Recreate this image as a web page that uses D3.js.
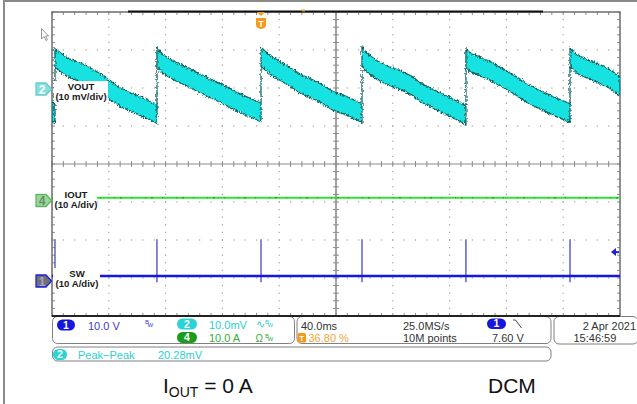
<!DOCTYPE html>
<html><head><meta charset="utf-8">
<script src="https://cdn.jsdelivr.net/npm/d3@7"></script>
<style>html,body{margin:0;padding:0;background:#fff;}svg{display:block;font-family:"Liberation Sans",Arial,sans-serif;}</style>
</head><body>
<svg id="c" width="637" height="404"></svg>
<script>
// ---------------- DATA ----------------
// time axis: 40 ms/div, 10 divisions
const timeDivs = [0, 40, 80, 120, 160, 200, 240, 280, 320, 360, 400];
// VOUT (ch2, mV, AC): centre of the noisy band
const voutT = [0, 2.1, 2.1, 10.6, 24.6, 33.8, 47.9, 57.0, 73.9,
  73.9, 78.2, 85.2, 95.1, 104.2, 118.3, 132.4, 147.2,
  147.2, 153.5, 160.6, 167.6, 174.6, 181.7, 188.7, 197.9, 207.7, 218.3,
  218.3, 221.8, 228.9, 235.9, 245.1, 254.2, 259.2, 273.2, 291.5,
  291.5, 294.4, 308.5, 322.5, 336.6, 352.8, 364.8,
  364.8, 369.7, 378.9, 385.9, 392.9, 400];
const voutV = [-6.2, -6.6, 7.9, 5.5, 3.4, 1.3, -2.4, -3.9, -6.8,
  8.2, 6.3, 4.7, 2.9, 1.2, -1.3, -4.0, -6.4,
  8.2, 6.1, 4.5, 2.9, 1.2, 0.0, -1.2, -3.4, -4.7, -6.6,
  8.4, 6.6, 4.7, 3.4, 2.1, 0.5, -1.1, -3.7, -7.1,
  7.9, 6.8, 4.5, 1.6, -1.8, -4.7, -6.6,
  8.2, 6.3, 4.7, 3.7, 2.4, 0.5];
const voutNoise = 2.45; // half band width, mV
// IOUT (ch4, A)
const ioutT = [0, 400];
const ioutA = [0.7, 0.7];
// SW (ch1, V)
const swT = [0, 400];
const swV = [1.3, 1.3];
const swSpikeT = [2.1, 73.9, 147.2, 218.3, 291.5, 364.8];
const swSpikeHigh = [11.0, 11.0, 11.0, 11.0, 11.0, 11.0];
const swSpikeLow = [-0.3, -0.3, -0.3, -0.3, -0.3, -0.3];
// trigger
const triggerPct = 36.80;
const triggerLevelV = 7.60;
// labels
const chanNames = ["VOUT", "IOUT", "SW"];
const chanScales = ["(10 mV/div)", "(10 A/div)", "(10 A/div)"];
const chanNums = ["2", "4", "1"];
const info = {
  ch1: "10.0 V", ch2: "10.0mV", ch4: "10.0 A",
  timebase: "40.0ms", trigPos: "36.80 %", rate: "25.0MS/s", points: "10M points",
  trigLevel: "7.60 V", date: "2 Apr  2021", time: "15:46:59",
  measName: "Peak\u2212Peak", measVal: "20.28mV"
};

// ---------------- SCALES ----------------
const svg = d3.select("#c");
const L = 52, R = 620, T = 12, B = 316;
const x = d3.scaleLinear().domain([0, 400]).range([L, R]);
const gy = d3.scaleLinear().domain([-4, 4]).range([B, T]);
const yV = d3.scaleLinear().domain([0, 10]).range([88, 50]);
const yI = d3.scaleLinear().domain([0, 10]).range([200.5, 162.5]);
const yS = d3.scaleLinear().domain([0, 10]).range([281, 243]);

const defs = svg.append("defs");
defs.append("clipPath").attr("id", "plot").append("rect")
  .attr("x", L).attr("y", T).attr("width", R - L).attr("height", B - T);
const f = defs.append("filter").attr("id", "rough").attr("filterUnits", "userSpaceOnUse")
  .attr("x", 40).attr("y", 0).attr("width", 600).attr("height", 180);
f.append("feTurbulence").attr("type", "fractalNoise").attr("baseFrequency", "0.7 0.45")
  .attr("numOctaves", 2).attr("seed", 4).attr("result", "n");
f.append("feDisplacementMap").attr("in", "SourceGraphic").attr("in2", "n")
  .attr("scale", 4.5).attr("xChannelSelector", "R").attr("yChannelSelector", "G");

// outer frame
svg.append("line").attr("x1", 4).attr("x2", 637).attr("y1", 1).attr("y2", 1).attr("stroke", "#8a8a8a").attr("stroke-width", 2);
svg.append("line").attr("x1", 4).attr("x2", 4).attr("y1", 0).attr("y2", 404).attr("stroke", "#8a8a8a").attr("stroke-width", 2);

// ---------------- GRID ----------------
const grid = svg.append("g");
const minorT = d3.range(0, 400.01, 8);
const minorD = d3.range(0, 41).map(i => -4 + i * 0.2);
const dots = [];
timeDivs.filter(t => t > 0 && t < 400 && t !== 200).forEach(t => minorD.forEach(d => dots.push([x(t), gy(d)])));
d3.range(-3, 4).filter(d => d !== 0).forEach(d => minorT.forEach(t => dots.push([x(t), gy(d)])));
grid.selectAll("rect.dot").data(dots).join("rect").attr("class", "dot")
  .attr("x", d => d[0] - 0.6).attr("y", d => d[1] - 0.6).attr("width", 1.2).attr("height", 1.2).attr("fill", "#a0a0a0");
// centre lines with ticks
grid.append("line").attr("x1", L).attr("x2", R).attr("y1", gy(0)).attr("y2", gy(0)).attr("stroke", "#8c8c8c").attr("stroke-width", 1.2);
grid.append("line").attr("x1", x(200)).attr("x2", x(200)).attr("y1", T).attr("y2", B).attr("stroke", "#8c8c8c").attr("stroke-width", 1.6);
grid.selectAll("line.ht").data(minorT).join("line").attr("class", "ht")
  .attr("x1", d => x(d)).attr("x2", d => x(d)).attr("y1", gy(0) - 3).attr("y2", gy(0) + 3).attr("stroke", "#8c8c8c");
grid.selectAll("line.vt").data(minorD).join("line").attr("class", "vt")
  .attr("x1", x(200) - 3).attr("x2", x(200) + 3).attr("y1", d => gy(d)).attr("y2", d => gy(d)).attr("stroke", "#8c8c8c");
// border ticks
grid.selectAll("line.bt").data(minorT).join("line").attr("class", "bt")
  .attr("x1", d => x(d)).attr("x2", d => x(d)).attr("y1", T).attr("y2", T + 3).attr("stroke", "#8c8c8c");
grid.selectAll("line.bb").data(minorT).join("line").attr("class", "bb")
  .attr("x1", d => x(d)).attr("x2", d => x(d)).attr("y1", B - 3).attr("y2", B).attr("stroke", "#8c8c8c");
grid.selectAll("line.bl").data(minorD).join("line").attr("class", "bl")
  .attr("x1", L).attr("x2", L + 3).attr("y1", d => gy(d)).attr("y2", d => gy(d)).attr("stroke", "#8c8c8c");
grid.selectAll("line.br").data(minorD).join("line").attr("class", "br")
  .attr("x1", R - 3).attr("x2", R).attr("y1", d => gy(d)).attr("y2", d => gy(d)).attr("stroke", "#8c8c8c");
grid.append("rect").attr("x", L).attr("y", T).attr("width", R - L).attr("height", B - T)
  .attr("fill", "none").attr("stroke", "#6e6e6e").attr("stroke-width", 1.5);
// record bar / bottom edge
grid.append("line").attr("x1", 128).attr("x2", 543).attr("y1", 11.5).attr("y2", 11.5).attr("stroke", "#111").attr("stroke-width", 2);
grid.append("line").attr("x1", L).attr("x2", R).attr("y1", B).attr("y2", B).attr("stroke", "#222").attr("stroke-width", 2);

// ---------------- TRACES ----------------
const tr = svg.append("g").attr("clip-path", "url(#plot)");
const vData = voutT.map((t, i) => ({ t, v: voutV[i] }));
const area = d3.area().x(d => x(d.t)).y0(d => yV(d.v - voutNoise)).y1(d => yV(d.v + voutNoise));
tr.append("path").datum(vData).attr("d", area)
  .attr("fill", "#18e2e2").attr("stroke", "#0e6262").attr("stroke-width", 1.3)
  .attr("stroke-linejoin", "round").attr("filter", "url(#rough)");

const line = (sx, sy) => d3.line().x(d => sx(d[0])).y(d => sy(d[1]));
tr.append("path").datum(ioutT.map((t, i) => [t, ioutA[i]])).attr("d", line(x, yI))
  .attr("fill", "none").attr("stroke", "#2fe22f").attr("stroke-width", 2);
tr.append("path").datum(ioutT.map((t, i) => [t, ioutA[i]])).attr("d", line(x, yI))
  .attr("fill", "none").attr("stroke", "#1d8f1d").attr("stroke-width", 1).attr("stroke-dasharray", "1 5 2 9 1 13");

tr.selectAll("line.sp").data(swSpikeT).join("line").attr("class", "sp")
  .attr("x1", d => x(d)).attr("x2", d => x(d))
  .attr("y1", (d, i) => yS(swSpikeHigh[i])).attr("y2", (d, i) => yS(swSpikeLow[i]))
  .attr("stroke", "#4646c4").attr("stroke-width", 1.3);
tr.append("path").datum(swT.map((t, i) => [t, swV[i]])).attr("d", line(x, yS))
  .attr("fill", "none").attr("stroke", "#1515e4").attr("stroke-width", 2.6);

// ---------------- CHANNEL LABELS ----------------
const lab = svg.append("g").attr("font-size", 9.6).attr("font-weight", "bold").attr("fill", "#1a1a1a").attr("text-anchor", "middle");
const boxes = [[54, 81, 54, 22, 81, 90, 99.5], [53, 188, 44, 22, 76, 198, 207.5], [53, 268, 47, 23, 77, 277, 286.5]];
boxes.forEach((b, i) => {
  lab.append("rect").attr("x", b[0]).attr("y", b[1]).attr("width", b[2]).attr("height", b[3]).attr("fill", "#fff");
  lab.append("text").attr("x", b[4]).attr("y", b[5]).text(chanNames[i]);
  lab.append("text").attr("x", b[4]).attr("y", b[6]).text(chanScales[i]);
});

// channel offset markers
function marker(yc, fill, stroke, txtFill, num) {
  const g = svg.append("g");
  g.append("path").attr("d", `M36,${yc - 6} H46 L51.5,${yc} L46,${yc + 6} H36 Z`)
    .attr("fill", fill).attr("stroke", stroke).attr("stroke-width", 1.3).attr("stroke-linejoin", "round");
  g.append("text").attr("x", 42).attr("y", yc + 4.5).attr("text-anchor", "middle")
    .attr("font-size", 12).attr("font-weight", "bold").attr("fill", txtFill).text(num);
}
marker(yV(0) + 1, "#86dede", "#66cccc", "#f4ffff", chanNums[0]);
marker(yI(0), "#98d898", "#5fb85f", "#6a8a6a", chanNums[1]);
marker(yS(0), "#707078", "#1e1ee6", "#a8a8b8", chanNums[2]);

// trigger position marker
const tx = x(triggerPct / 100 * 400);
svg.append("path").attr("d", `M${tx - 4},12 H${tx + 4} L${tx},16 Z`).attr("fill", "#f59a1c");
svg.append("path").attr("d", `M${tx - 5},18 H${tx + 5} V25 Q${tx + 5},28 ${tx},29 Q${tx - 5},28 ${tx - 5},25 Z`).attr("fill", "#f59a1c");
svg.append("text").attr("x", tx).attr("y", 26.5).attr("text-anchor", "middle").attr("font-size", 9)
  .attr("font-weight", "bold").attr("fill", "#fff").text("T");
svg.append("rect").attr("x", 302).attr("y", 9.5).attr("width", 3).attr("height", 2).attr("fill", "#f59a1c");
// trigger level arrow
const ty = yS(triggerLevelV);
svg.append("path").attr("d", `M611,${ty} L616,${ty - 4} L616,${ty + 4} Z`).attr("fill", "#1e1ee6");
svg.append("line").attr("x1", 615).attr("x2", 619).attr("y1", ty).attr("y2", ty).attr("stroke", "#1e1ee6").attr("stroke-width", 2);

// mouse cursor icon
svg.append("path").attr("d", "M41.5,28.5 L41.5,39 L44,36.5 L46,40.5 L47.5,39.8 L45.5,36 L48.5,36 Z")
  .attr("fill", "#fff").attr("stroke", "#8a8a8a").attr("stroke-width", 0.9);

// ---------------- INFO PANEL ----------------
const p = svg.append("g").attr("font-size", 11);
const rbox = (x0, y0, w, h) => p.append("rect").attr("x", x0).attr("y", y0).attr("width", w).attr("height", h)
  .attr("rx", 5).attr("fill", "#fff").attr("stroke", "#808080").attr("stroke-width", 1);
rbox(52.5, 316.5, 242, 27);
rbox(297, 316.5, 254, 27);
rbox(554, 316.5, 84, 27.5);
rbox(52.5, 347, 498.5, 14);
// redraw graticule bottom over box tops
p.append("line").attr("x1", L).attr("x2", R).attr("y1", B).attr("y2", B).attr("stroke", "#222").attr("stroke-width", 2);

const pill = (x0, y0, w, h, fill, num) => {
  p.append("rect").attr("x", x0).attr("y", y0).attr("width", w).attr("height", h).attr("rx", h / 2).attr("fill", fill);
  p.append("text").attr("x", x0 + w / 2).attr("y", y0 + h - 2).attr("text-anchor", "middle")
    .attr("font-size", 10.5).attr("font-weight", "bold").attr("fill", "#fff").text(num);
};
const txt = (x0, y0, s, col, size) => p.append("text").attr("x", x0).attr("y", y0).attr("fill", col)
  .attr("font-size", size || 11).text(s);
const bw = (x0, y0, col) => {
  txt(x0, y0 - 3, "B", col, 6);
  txt(x0 + 2.5, y0, "W", col, 6);
};
const blueT = "#3b3bd2", cyanT = "#2ccfcf", greenT = "#34ad34", orangeT = "#f2a33a", darkT = "#333";
pill(57, 319.5, 18, 11, "#1616dc", "1");
txt(88, 329.5, info.ch1, blueT);
bw(145, 327, blueT);
pill(177, 318.5, 20, 11, "#2ad4d4", "2");
txt(209, 329, info.ch2, cyanT);
txt(256, 328, "\u223F", cyanT, 11);
bw(265, 327, cyanT);
pill(177, 332, 20, 11, "#1c9c1c", "4");
txt(209, 342, info.ch4, greenT);
txt(255.5, 342, "\u03A9", greenT, 10);
bw(265, 341, greenT);

txt(301, 330, info.timebase, darkT);
p.append("rect").attr("x", 297.5).attr("y", 333).attr("width", 8.5).attr("height", 9.5).attr("rx", 1.5).attr("fill", "#f39a1e");
txt(301.75, 341, "T", "#fff", 8).attr("text-anchor", "middle").attr("font-weight", "bold");
txt(308.5, 342, info.trigPos, orangeT);
txt(403, 330, info.rate, darkT);
txt(403, 342, info.points, darkT);
pill(487, 318.5, 19, 10.5, "#1616dc", "1");
p.append("path").attr("d", "M513,320 H515.5 L521.5,328").attr("fill", "none").attr("stroke", "#444").attr("stroke-width", 1);
txt(492, 342, info.trigLevel, darkT);

txt(636, 330, info.date, darkT).attr("text-anchor", "end");
txt(573.5, 342, info.time, darkT);

pill(53, 349, 14, 11, "#2ad4d4", "2");
txt(78, 358.5, info.measName, cyanT);
txt(158, 358.5, info.measVal, cyanT);

// ---------------- CAPTIONS ----------------
const cap = svg.append("g").attr("fill", "#111").attr("font-size", 21);
const c1 = cap.append("text").attr("x", 163).attr("y", 393);
c1.append("tspan").text("I");
c1.append("tspan").attr("font-size", 14).attr("dy", 4).text("OUT");
c1.append("tspan").attr("dy", -4).text(" = 0 A");
cap.append("text").attr("x", 488).attr("y", 393).text("DCM");
</script>
</body></html>
